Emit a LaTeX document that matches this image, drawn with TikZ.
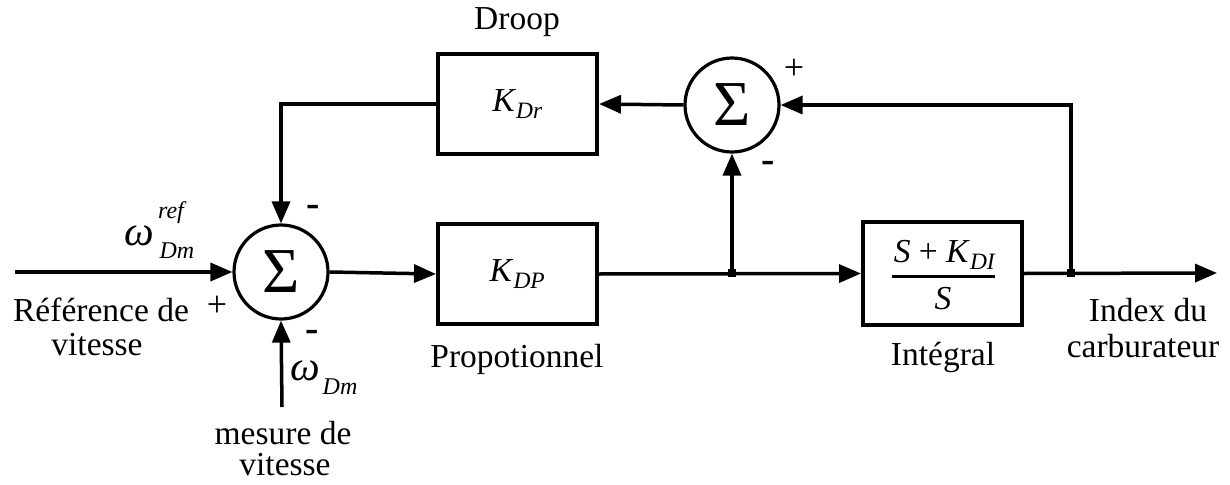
\documentclass[tikz,border=0pt]{standalone}
\usepackage{fontspec}
\setmainfont{Liberation Serif}
\usetikzlibrary{arrows.meta}
\begin{document}
\begin{tikzpicture}[x=1pt,y=-1pt,
  ln/.style={line width=3.5pt},
  arr/.style={ln,-{Triangle[length=22pt,width=18pt]}},
  blockbox/.style={draw,line width=4pt,minimum width=159pt,minimum height=100pt,inner sep=0pt},
  sumnode/.style={draw,circle,line width=3.2pt,minimum size=94pt,inner sep=0pt,font=\fontsize{64}{68}\selectfont},
  lbl/.style={inner sep=0pt,font=\fontsize{33.5}{38}\selectfont},
  sgn/.style={inner sep=0pt,font=\fontsize{36}{40}\selectfont},
  mns/.style={inner sep=0pt,font=\fontsize{40}{44}\selectfont\bfseries},
  grk/.style={inner sep=0pt,font=\fontsize{42}{44}\selectfont\itshape},
  scr/.style={inner sep=0pt,font=\fontsize{24}{26}\selectfont\itshape},
  dot/.style={fill,rectangle,minimum size=8pt,inner sep=0pt}]
\useasboundingbox (0,0) rectangle (1230,484);
% blocks
\node[sumnode] (s1) at (281,272) {Σ};
\node[sumnode] (s2) at (732,105) {Σ};
\node[blockbox] (kdp) at (517.5,274) {\fontsize{33.5}{38}\selectfont\textit{K}\textsubscript{\textit{DP}}};
\node[blockbox] (kdr) at (517.5,104) {\fontsize{33.5}{38}\selectfont\textit{K}\textsubscript{\textit{Dr}}};
\node[blockbox,minimum height=103pt] (int) at (942.5,273.5) {};
% fraction inside integral block
\node[lbl] (num) at (945,255) {\textit{S} + \textit{K}\textsubscript{\textit{DI}}};
\node[lbl] (den) at (943,299) {\textit{S}};
\coordinate (barl) at (892,276);
\coordinate (barr) at (995,276);
\draw[line width=3pt] (barl) -- (barr);
% coordinates
\coordinate (in) at (15,272);
\coordinate (out) at (1217,273);
\coordinate (j1) at (732,273);
\coordinate (j2) at (1071,273);
\coordinate (b) at (282,407);
% connectors
\draw[arr] (in) -- (s1.west);
\draw[arr] (s1.east) -- (kdp.west);
\draw[arr] (kdp.east) -- (int.west);
\draw[arr] (int.east) -- (out);
\draw[arr] (j1) -- (s2.south);
\draw[arr] (j2) |- (s2.east);
\draw[arr] (s2.west) -- (kdr.east);
\draw[arr] (kdr.west) -| (s1.north);
\draw[arr] (b) -- (s1.south);
\node[dot] (d1) at (j1) {};
\node[dot] (d2) at (j2) {};
% labels
\node[lbl] (droop) at (517,22) {Droop};
\node[lbl] (ref1) at (101,310) {Référence de};
\node[lbl] (ref2) at (97,345) {vitesse};
\node[sgn] (p1) at (217,306) {+};
\node[mns] (m1) at (313,211) {-};
\node[mns] (m2) at (312,336) {-};
\node[sgn] (p2) at (794,69) {+};
\node[mns] (m3) at (768,167) {-};
\node[grk] (w1) at (139,236) {ω};
\node[scr] (w1a) at (171,213) {ref};
\node[scr] (w1b) at (177,251) {Dm};
\node[grk] (w2) at (305,371) {ω};
\node[scr] (w2b) at (340,387) {Dm};
\node[lbl] (mes1) at (283,433) {mesure de};
\node[lbl] (mes2) at (285,465) {vitesse};
\node[lbl] (prop) at (517,359) {Propotionnel};
\node[lbl] (intl) at (943,357) {Intégral};
\node[lbl] (idx1) at (1148,310) {Index du};
\node[lbl] (idx2) at (1143,346) {carburateur};
\end{tikzpicture}
\end{document}
